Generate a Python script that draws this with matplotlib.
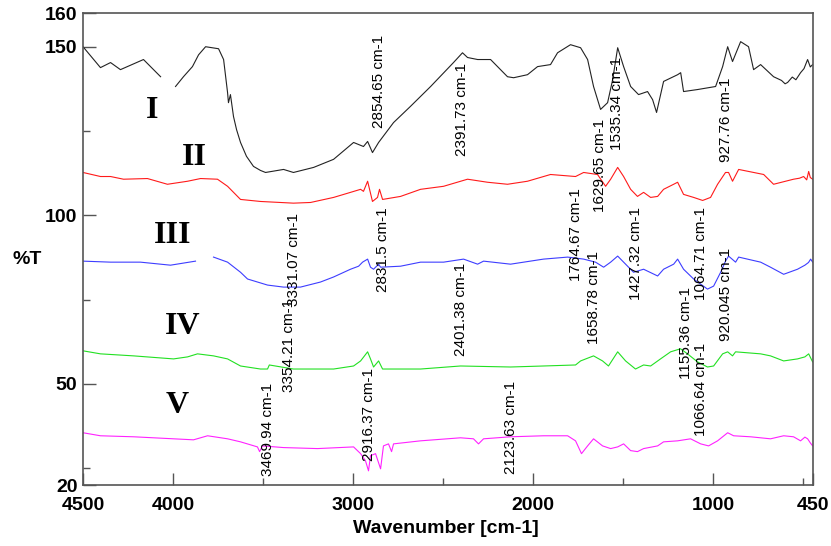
import numpy as np
import matplotlib.pyplot as plt
from matplotlib.ticker import FixedLocator

# Spectres FTIR (nombre d'onde en cm-1, %T)
wn_I = [4500, 4403, 4347, 4292, 4164, 4069, np.nan, 3986, 3942, 3892, 3858, 3819, 3747, 3719,
        3697, 3692, 3681, 3664, 3647, 3625, 3592, 3553, 3514, 3486, 3386, 3331, 3219, 3108,
        2997, 2942, 2919, 2892, 2858, 2775, 2681, 2569, 2442, 2392, 2364, 2308, 2236, 2142,
        2108, 2031, 1975, 1903, 1864, 1792, 1736, 1697, 1664, 1625, 1586, 1558, 1530, 1497,
        1458, 1414, 1364, 1336, 1314, 1275, 1197, 1180, 1164, 1086, 986, 947, 919, 892, 847,
        803, 775, 736, 664, 620, 600, 586, 560, 540, 514, 495, 475, 460, 447]
t_I = [150.0, 143.8, 145.3, 143.2, 146.2, 141.1, np.nan, 138.2, 141.1, 144.1, 147.6, 150.0,
       149.4, 146.2, 136.4, 133.4, 135.8, 129.3, 125.4, 121.6, 117.5, 114.5, 113.3, 112.7,
       113.6, 112.7, 114.2, 116.6, 121.6, 120.4, 121.9, 118.6, 121.6, 127.5, 132.3, 138.2,
       145.3, 148.2, 146.8, 146.2, 146.2, 141.1, 140.8, 141.7, 144.1, 144.7, 148.2, 150.6,
       149.7, 146.2, 138.2, 131.4, 133.4, 140.2, 149.7, 144.1, 138.2, 135.8, 136.7, 134.3,
       130.5, 139.7, 141.7, 142.3, 136.7, 137.3, 138.2, 144.1, 150.0, 145.6, 151.5, 150.0,
       143.2, 144.7, 141.1, 140.0, 139.0, 139.4, 141.0, 140.2, 142.3, 143.5, 146.2, 144.0,
       144.7]

wn_II = [4500, 4403, 4347, 4275, 4142, 4031, 3919, 3847, 3753, 3697, 3625, 3514, 3331, 3236,
         3108, 3014, 2958, 2942, 2919, 2892, 2864, 2853, 2836, 2736, 2625, 2497, 2364, 2253,
         2142, 2031, 1903, 1764, 1719, 1642, 1597, 1569, 1530, 1497, 1458, 1420, 1386, 1347,
         1308, 1275, 1219, 1197, 1186, 1164, 1108, 1058, 1014, 975, 931, 914, 892, 858, 719,
         664, 553, 520, 497, 480, 469, 460, 447]
t_II = [112.7, 111.5, 111.5, 110.7, 110.9, 109.2, 110.1, 110.9, 110.7, 108.6, 104.7, 104.1,
        103.6, 103.8, 105.3, 106.8, 107.7, 107.1, 110.1, 104.1, 105.3, 107.7, 104.7, 105.6,
        107.7, 108.6, 110.7, 109.8, 109.2, 110.1, 112.1, 111.5, 112.7, 112.1, 108.6, 110.7,
        114.2, 111.5, 107.7, 105.6, 106.8, 105.3, 105.6, 107.7, 109.2, 109.8, 108.6, 106.2,
        105.3, 104.4, 105.3, 109.2, 112.7, 112.7, 110.1, 113.6, 112.1, 109.2, 110.7, 111.0,
        111.5, 110.5, 113.0, 111.2, 110.7]

wn_III = [4500, 4347, 4181, 4014, 3875, np.nan, 3775, 3697, 3625, 3586, 3475, 3386, 3292, 3181,
          3108, 3014, 2969, 2947, 2919, 2903, 2886, 2858, 2847, 2736, 2625, 2497, 2386, 2308,
          2275, 2125, 1942, 1808, 1719, 1653, 1608, 1569, 1530, 1497, 1442, 1386, 1308, 1275,
          1219, 1197, 1164, 1108, 1031, 997, 958, 931, 914, 875, 858, 736, 681, 608, 531, 490,
          470, 458, 447]
t_III = [86.4, 86.1, 86.1, 85.2, 86.4, np.nan, 87.6, 86.1, 83.1, 81.1, 79.3, 78.7, 78.7, 80.2,
         81.7, 84.0, 84.9, 86.1, 87.0, 84.6, 84.0, 85.5, 84.6, 84.9, 86.1, 86.1, 87.0, 85.5,
         86.4, 85.5, 87.0, 87.6, 87.0, 86.1, 84.6, 86.1, 87.9, 86.1, 83.1, 84.0, 82.0, 84.0,
         85.5, 87.0, 84.0, 81.1, 78.1, 79.0, 83.1, 86.4, 87.9, 86.1, 87.6, 86.1, 84.6, 82.5,
         84.0, 85.2, 86.0, 87.0, 86.1]

wn_IV = [4500, 4403, 4219, 3997, 3919, 3864, 3775, 3697, 3625, 3514, 3475, 3465, 3331, 3108,
         2997, 2958, 2919, 2903, 2886, 2858, 2836, 2625, 2403, 2125, 1942, 1764, 1736, 1664,
         1614, 1581, 1530, 1486, 1431, 1386, 1347, 1292, 1236, 1181, 1142, 1086, 1031, 997,
         947, 919, 892, 875, 736, 681, 608, 531, 490, 469, 447]
t_IV = [59.8, 58.9, 58.3, 57.4, 58.0, 58.9, 58.3, 57.4, 55.3, 54.4, 54.4, 55.6, 54.4, 54.4,
        55.3, 56.8, 59.5, 57.4, 55.0, 56.8, 54.4, 54.4, 55.3, 55.0, 55.3, 55.6, 56.8, 58.3,
        56.8, 55.3, 59.5, 56.8, 54.4, 55.6, 55.3, 57.4, 59.5, 60.4, 58.9, 56.5, 55.0, 55.3,
        58.9, 59.5, 58.3, 59.5, 58.9, 58.3, 56.8, 57.4, 58.0, 58.9, 56.5]

wn_V = [4500, 4403, 4219, 3997, 3886, 3808, 3697, 3625, 3531, 3519, 3503, 3386, 3197, 2997,
        2958, 2931, 2914, 2903, 2875, 2847, 2831, 2803, 2786, 2775, 2625, 2403, 2331, 2303,
        2275, 2125, 1942, 1808, 1764, 1731, 1697, 1664, 1614, 1569, 1530, 1497, 1458, 1420,
        1386, 1308, 1275, 1197, 1125, 1069, 1025, 975, 919, 886, 792, 681, 608, 553, 514,
        490, 475, 460, 447]
t_V = [35.5, 34.6, 34.3, 33.7, 33.4, 34.6, 33.7, 32.8, 31.3, 29.9, 31.6, 31.1, 30.8, 31.3,
       29.3, 27.2, 24.2, 28.7, 29.3, 24.8, 31.6, 32.2, 29.9, 32.2, 33.1, 34.0, 33.7, 32.2,
       33.7, 34.3, 34.6, 34.6, 33.1, 29.3, 31.6, 33.7, 31.6, 30.8, 31.3, 32.2, 30.2, 29.9,
       30.8, 31.6, 32.8, 33.1, 33.7, 32.2, 31.6, 33.1, 35.5, 34.6, 34.3, 33.7, 34.6, 34.3,
       33.1, 34.2, 33.7, 32.5, 31.6]

# Étiquettes des pics : texte, position (cm-1), bas du texte (%T)
peak_labels = ["2854.65 cm-1", "2391.73 cm-1", "1629.65 cm-1", "1535.34 cm-1", "927.76 cm-1",
               "1764.67 cm-1", "1658.78 cm-1", "1427.32 cm-1", "1064.71 cm-1", "920.045 cm-1",
               "1155.36 cm-1", "1066.64 cm-1", "2123.63 cm-1", "2401.38 cm-1", "2831.5 cm-1",
               "3331.07 cm-1", "3354.21 cm-1", "3469.94 cm-1", "2916.37 cm-1"]
peak_x = [2856, 2392, 1626, 1532, 930, 1764, 1663, 1430, 1067, 929, 1153, 1068, 2124, 2402,
          2835, 3330, 3357, 3473, 2914]
peak_y = [126, 117.5, 101, 119.5, 115.7, 80.5, 61.8, 75, 75, 62.7, 51.5, 34.6, 23.4, 58.3,
          77.2, 73, 47.6, 22.8, 27]

samples = ["I", "II", "III", "IV", "V"]
sample_x = [4114, 3880, 4003, 3947, 3975]
sample_y = [131, 117, 94, 67, 43.5]

fig = plt.figure(figsize=(8.31, 5.46), dpi=100)
ax = fig.add_axes([83/831, 1 - 485/546, 730/831, 472/546])

ax.plot(wn_I, t_I, color="#222222", lw=0.8)
ax.plot(wn_II, t_II, color="#ff1a1a", lw=0.8)
ax.plot(wn_III, t_III, color="#3d3dff", lw=0.8)
ax.plot(wn_IV, t_IV, color="#22e022", lw=0.8)
ax.plot(wn_V, t_V, color="#ff22ff", lw=0.8)

for txt, x, y in zip(peak_labels, peak_x, peak_y):
    ax.text(x, y, txt, rotation=90, ha="center", va="bottom", fontsize=11,
            family="Liberation Sans", color="black")

for s, x, y in zip(samples, sample_x, sample_y):
    ax.text(x, y, s, ha="center", va="center", fontsize=23, fontweight="bold",
            family="Liberation Serif")

ax.set_xlim(4500, 445)
ax.set_ylim(20, 160)
ax.xaxis.set_major_locator(FixedLocator([4500, 4000, 3000, 2000, 1000, 445]))
ax.set_xticklabels(["4500", "4000", "3000", "2000", "1000", "450"])
ax.xaxis.set_minor_locator(FixedLocator([3500, 2500, 1500, 500]))
ax.yaxis.set_major_locator(FixedLocator([20, 50, 100, 150, 160]))
ax.yaxis.set_minor_locator(FixedLocator([25, 75, 125]))

ax.tick_params(which="major", direction="in", length=9, width=1, color="#555555")
ax.tick_params(which="minor", direction="in", length=5, width=1, color="#555555")
ax.tick_params(axis="x", which="major", pad=9)
ax.tick_params(axis="y", which="major", pad=4)
for lab in ax.get_xticklabels() + ax.get_yticklabels():
    lab.set_fontsize(14)
    lab.set_fontweight("bold")
    lab.set_family("Liberation Sans")

for sp in ax.spines.values():
    sp.set_color("#555555")
    sp.set_linewidth(1.2)

ax.set_xlabel("Wavenumber [cm-1]", fontsize=14, fontweight="bold", family="Liberation Sans")
ax.xaxis.set_label_coords(0.497, -0.075)
ax.set_ylabel("%T", fontsize=14, fontweight="bold", family="Liberation Sans", rotation=0,
              va="center", ha="center")
ax.yaxis.set_label_coords(-0.077, 0.477)

fig.savefig("out.png", dpi=100)
